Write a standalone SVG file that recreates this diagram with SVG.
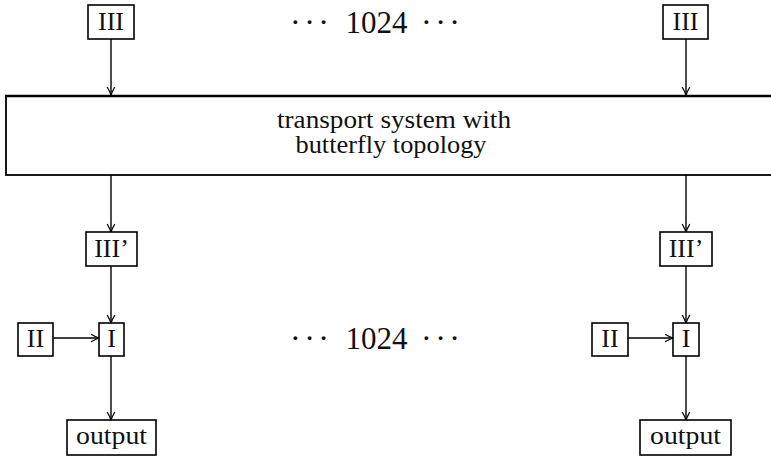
<svg xmlns="http://www.w3.org/2000/svg" width="771" height="457" viewBox="0 0 771 457">
<style>
.box{fill:#fff;stroke:#000;stroke-width:1.6}
.lbl{font-family:"Liberation Serif","DejaVu Serif",serif;font-size:26px;fill:#111;text-anchor:middle}
.big{font-family:"Liberation Serif","DejaVu Serif",serif;font-size:25px;fill:#111;text-anchor:middle}
.dots{font-family:"Liberation Serif","DejaVu Serif",serif;font-size:32px;fill:#111;text-anchor:start}
.num{font-family:"Liberation Serif","DejaVu Serif",serif;font-size:32px;fill:#111;text-anchor:middle}
.con{stroke:#000;stroke-width:1.4;fill:none;marker-end:url(#arr)}
</style>
<defs>
<marker id="arr" markerUnits="userSpaceOnUse" markerWidth="12" markerHeight="12" viewBox="-10 -6 12 12" refX="0" refY="0" orient="auto">
<path d="M-8,-3.8 Q-3,-1 0,0 Q-3,1 -8,3.8" fill="none" stroke="#000" stroke-width="1.3"/>
</marker>
</defs>
<g id="connectors">
<line class="con" x1="111" y1="39" x2="111" y2="95"/>
<line class="con" x1="686" y1="39" x2="686" y2="95"/>
<line class="con" x1="111" y1="175" x2="111" y2="232"/>
<line class="con" x1="686" y1="175" x2="686" y2="232"/>
<line class="con" x1="111" y1="266" x2="111" y2="323"/>
<line class="con" x1="686" y1="266" x2="686" y2="323"/>
<line class="con" x1="53" y1="338" x2="99" y2="338"/>
<line class="con" x1="628" y1="338" x2="673" y2="338"/>
<line class="con" x1="111" y1="356" x2="111" y2="420"/>
<line class="con" x1="686" y1="356" x2="686" y2="420"/>
</g>
<g id="transport">
<rect x="6" y="96" width="800" height="79" fill="none" stroke="#000" stroke-width="1.8"/>
<line x1="5" y1="96" x2="771" y2="96" stroke="#000" stroke-width="2.6"/>
<text class="big" x="394" y="128" textLength="234" lengthAdjust="spacingAndGlyphs">transport system with</text>
<text class="big" x="391" y="153" textLength="191" lengthAdjust="spacingAndGlyphs">butterfly topology</text>
</g>
<g id="III-left"><rect class="box" x="88" y="5" width="46" height="34"/><text class="lbl" x="111" y="30">III</text></g>
<g id="III-right"><rect class="box" x="663" y="5" width="45" height="34"/><text class="lbl" x="685.5" y="30">III</text></g>
<g id="IIIp-left"><rect class="box" x="86" y="232" width="51" height="34"/><text class="lbl" x="111.5" y="257">III’</text></g>
<g id="IIIp-right"><rect class="box" x="660" y="232" width="52" height="34"/><text class="lbl" x="686" y="257">III’</text></g>
<g id="I-left"><rect class="box" x="99" y="323" width="25" height="33"/><text class="lbl" x="111.5" y="347">I</text></g>
<g id="I-right"><rect class="box" x="673" y="323" width="26" height="33"/><text class="lbl" x="686" y="347">I</text></g>
<g id="II-left"><rect class="box" x="18" y="323" width="35" height="33"/><text class="lbl" x="35.5" y="347">II</text></g>
<g id="II-right"><rect class="box" x="592" y="323" width="36" height="33"/><text class="lbl" x="610" y="347">II</text></g>
<g id="output-left"><rect class="box" x="67" y="420" width="89" height="35"/><text class="lbl" x="111.5" y="444" textLength="71" lengthAdjust="spacingAndGlyphs">output</text></g>
<g id="output-right"><rect class="box" x="640" y="420" width="91" height="35"/><text class="lbl" x="685.5" y="444" textLength="71" lengthAdjust="spacingAndGlyphs">output</text></g>
<g id="count-top">
<text class="dots" x="290" y="33" textLength="39" lengthAdjust="spacing">···</text>
<text class="num" x="376.5" y="33" textLength="62" lengthAdjust="spacingAndGlyphs">1024</text>
<text class="dots" x="421" y="33" textLength="39" lengthAdjust="spacing">···</text>
</g>
<g id="count-bottom">
<text class="dots" x="290" y="349" textLength="39" lengthAdjust="spacing">···</text>
<text class="num" x="376.5" y="349" textLength="62" lengthAdjust="spacingAndGlyphs">1024</text>
<text class="dots" x="421" y="349" textLength="39" lengthAdjust="spacing">···</text>
</g>
</svg>
